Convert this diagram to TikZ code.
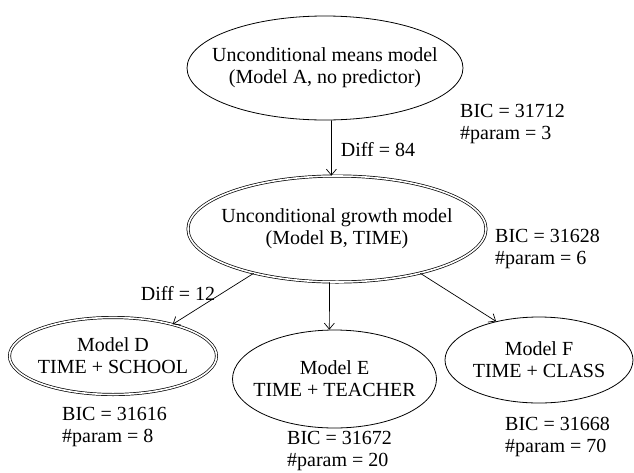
\documentclass[tikz,border=0pt]{standalone}
\usepackage{fontspec}
\setmainfont{Liberation Serif}
\usetikzlibrary{shapes.geometric,arrows.meta}
\begin{document}
\begin{tikzpicture}[x=1pt,y=-1pt,
  every node/.style={font=\fontsize{20}{22}\selectfont},
  ell/.style={ellipse,draw,inner xsep=-40pt,inner ysep=-20pt,align=center,line width=0.8pt},
  dbl/.style={ellipse,draw,inner xsep=-40pt,inner ysep=-20pt,align=center,double,double distance=1.6pt,line width=0.7pt},
  lbl/.style={align=left,inner sep=0pt,anchor=west},
  arr/.style={-{Straight Barb[length=6pt,width=10pt]},line width=0.7pt}]
\useasboundingbox (0,0) rectangle (634,472);
\node[ell,minimum width=276pt,minimum height=104pt] (A) at (325,68) {Unconditional means model\\(Model A, no predictor)};
\node[dbl,minimum width=298pt,minimum height=106pt] (B) at (337,229) {Unconditional growth model\\(Model B, TIME)};
\node[dbl,minimum width=207pt,minimum height=77pt] (D) at (113,356) {Model D\\TIME + SCHOOL};
\node[ell,minimum width=204pt,minimum height=98pt] (E) at (334.5,379) {Model E\\TIME + TEACHER};
\node[ell,minimum width=188pt,minimum height=86pt] (F) at (539,360) {Model F\\TIME + CLASS};
\node[lbl] (lA) at (460,124) {BIC = 31712\\\#param = 3};
\node[lbl] (lB) at (495,249) {BIC = 31628\\\#param = 6};
\node[lbl] (lD) at (62,427) {BIC = 31616\\\#param = 8};
\node[lbl] (lE) at (287,451) {BIC = 31672\\\#param = 20};
\node[lbl] (lF) at (505,437) {BIC = 31668\\\#param = 70};
\node[inner sep=0pt] (d84) at (378,150) {Diff = 84};
\node[inner sep=0pt] (d12) at (178,293) {Diff = 12};
\draw[arr] (A.-83) -- (B.96);
\draw[arr] (B.208) -- (D.28);
\draw[arr] (B.-98) -- (E.96);
\draw[arr] (B.-28.5) -- (F.138);
\end{tikzpicture}
\end{document}
